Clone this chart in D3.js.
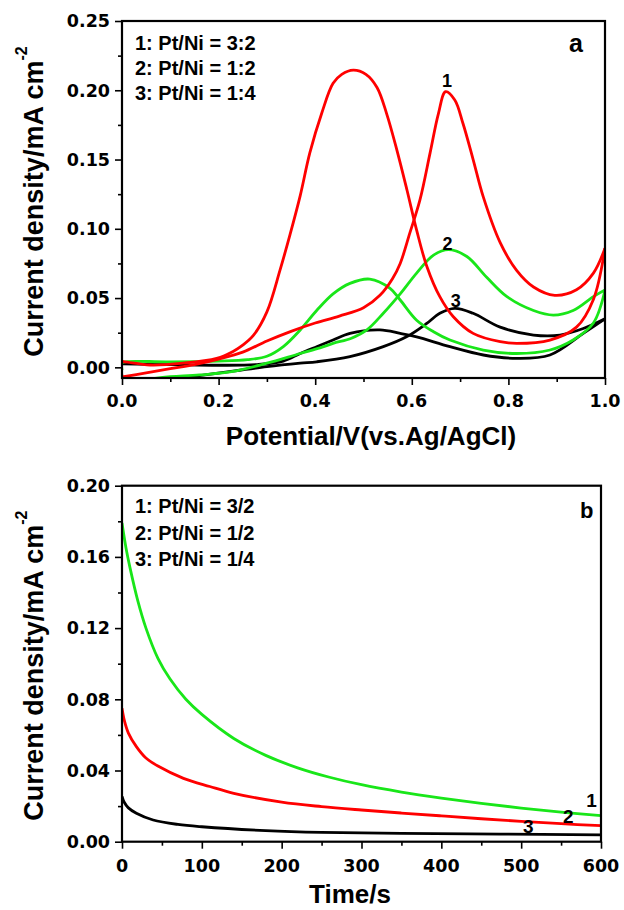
<!DOCTYPE html>
<html><head><meta charset="utf-8">
<script src="https://cdn.jsdelivr.net/npm/d3@7"></script>
<style>
body{margin:0;background:#fff;}
svg{display:block;}
text{font-family:Arial,"Liberation Sans",sans-serif;font-weight:bold;fill:#000;}
.tick{font-family:"DejaVu Sans",Arial,sans-serif;font-weight:bold;}
</style></head>
<body>
<script>
// ---------- Panel a : cyclic voltammograms [potential V, current mA cm-2] ----------
const cvRedForward = [[0,-0.007],[0.05,-0.004],[0.1,-0.001],[0.15,0.002],[0.2,0.006],[0.25,0.011],[0.3,0.019],[0.35,0.026],[0.4,0.032],[0.45,0.037],[0.5,0.043],[0.534,0.052],[0.56,0.064],[0.576,0.075],[0.596,0.097],[0.617,0.121],[0.638,0.155],[0.655,0.183],[0.67,0.199],[0.689,0.193],[0.706,0.176],[0.727,0.150],[0.748,0.123],[0.783,0.09],[0.817,0.07],[0.852,0.058],[0.896,0.052],[0.941,0.056],[0.976,0.068],[1.0,0.086]];
const cvRedBackward = [[1.0,0.086],[0.976,0.049],[0.941,0.029],[0.886,0.0197],[0.817,0.0173],[0.783,0.0185],[0.727,0.0245],[0.686,0.0365],[0.658,0.051],[0.631,0.073],[0.61,0.099],[0.59,0.128],[0.569,0.157],[0.548,0.183],[0.528,0.202],[0.505,0.2115],[0.479,0.2145],[0.455,0.2115],[0.437,0.205],[0.414,0.184],[0.389,0.155],[0.369,0.124],[0.348,0.096],[0.327,0.070],[0.30,0.040],[0.272,0.023],[0.25,0.016],[0.23,0.0115],[0.196,0.0065],[0.127,0.003],[0.058,0.0017],[0.006,0.004],[0,0.004],[0,-0.007]];
const cvGreenForward = [[0,-0.012],[0.08,-0.0075],[0.16,-0.0055],[0.23,-0.003],[0.30,0.003],[0.369,0.010],[0.41,0.014],[0.437,0.0173],[0.475,0.021],[0.507,0.027],[0.541,0.039],[0.576,0.053],[0.61,0.068],[0.645,0.081],[0.676,0.085],[0.714,0.080],[0.755,0.065],[0.797,0.051],[0.852,0.041],[0.893,0.0377],[0.934,0.041],[0.976,0.051],[1.0,0.0558]];
const cvGreenBackward = [[1.0,0.0558],[0.976,0.032],[0.934,0.0197],[0.886,0.0125],[0.817,0.010],[0.748,0.0125],[0.679,0.0197],[0.645,0.0257],[0.61,0.034],[0.576,0.0486],[0.555,0.057],[0.513,0.0637],[0.472,0.0606],[0.437,0.053],[0.403,0.041],[0.369,0.027],[0.334,0.015],[0.30,0.008],[0.26,0.0055],[0.2,0.0045],[0.093,0.004],[0.006,0.004],[0,0.003],[0,-0.002]];
const cvBlackForward = [[0,-0.012],[0.08,-0.009],[0.16,-0.006],[0.3,0.0005],[0.369,0.003],[0.403,0.004],[0.472,0.0077],[0.541,0.0149],[0.589,0.022],[0.631,0.0317],[0.658,0.039],[0.689,0.0426],[0.727,0.039],[0.783,0.029],[0.852,0.0233],[0.907,0.0233],[0.955,0.028],[1.0,0.035]];
const cvBlackBackward = [[1.0,0.035],[0.955,0.0245],[0.886,0.0089],[0.817,0.0065],[0.748,0.0089],[0.679,0.0149],[0.61,0.022],[0.576,0.0245],[0.534,0.027],[0.472,0.0245],[0.437,0.0197],[0.403,0.0149],[0.369,0.010],[0.334,0.0045],[0.28,0.002],[0.2,0.0015],[0.1,0.002],[0,0.0025]];
const cvXTicks = [0,0.2,0.4,0.6,0.8,1.0];
const cvXMinor = [0.1,0.3,0.5,0.7,0.9];
const cvYTicks = [0,0.05,0.10,0.15,0.20,0.25];
const cvYMinor = [0.025,0.075,0.125,0.175,0.225];
const cvLegend = ["1: Pt/Ni = 3:2","2: Pt/Ni = 1:2","3: Pt/Ni = 1:4"];
const cvCurveLabels = [{t:"1",x:0.673,y:0.202},{t:"2",x:0.674,y:0.0846},{t:"3",x:0.691,y:0.0435}];

// ---------- Panel b : chronoamperometry [time s, current mA cm-2] ----------
const caGreenTime = [0,5,10,20,30,45,60,80,100,140,180,220,260,300,350,400,450,500,550,600];
const caGreenJ    = [0.179,0.165,0.154,0.135,0.120,0.103,0.0915,0.080,0.0715,0.058,0.0485,0.0415,0.0362,0.032,0.0279,0.0245,0.0215,0.0189,0.0166,0.0146];
const caRedTime = [0,3,8,18,30,45,77,110,140,200,250,300,350,400,450,500,550,600];
const caRedJ    = [0.075,0.068,0.061,0.0534,0.047,0.0425,0.0356,0.031,0.0272,0.0222,0.0197,0.0178,0.0161,0.0145,0.0129,0.0114,0.0101,0.009];
const caBlackTime = [0,3,8,18,39,70,100,180,250,350,474,600];
const caBlackJ    = [0.0255,0.022,0.019,0.016,0.0122,0.0097,0.0084,0.0062,0.0052,0.0047,0.0043,0.0038];
const caXTicks = [0,100,200,300,400,500,600];
const caXMinor = [50,150,250,350,450,550];
const caYTicks = [0,0.04,0.08,0.12,0.16,0.20];
const caYMinor = [0.02,0.06,0.10,0.14,0.18];
const caLegend = ["1: Pt/Ni = 3/2","2: Pt/Ni = 1/2","3: Pt/Ni = 1/4"];
const caCurveLabels = [{t:"1",x:588,y:0.0195},{t:"2",x:559,y:0.0105},{t:"3",x:509,y:0.0049}];

const RED="#ff0000", GREEN="#19e619", BLACK="#000000";

const svg = d3.select("body").append("svg").attr("width",624).attr("height",910);

function panel(o){
  const g = svg.append("g");
  const x = d3.scaleLinear().domain(o.xDomain).range([o.left,o.right]);
  const y = d3.scaleLinear().domain(o.yDomain).range([o.bottom,o.top]);
  const clipId = "clip"+o.name;
  svg.append("clipPath").attr("id",clipId).append("rect")
    .attr("x",o.left).attr("y",o.top).attr("width",o.right-o.left).attr("height",o.bottom-o.top);
  // ticks
  const xa = d3.axisBottom(x).tickValues(o.xTicks).tickSize(7).tickFormat("");
  const xm = d3.axisBottom(x).tickValues(o.xMinor).tickSize(4).tickFormat("");
  const ya = d3.axisLeft(y).tickValues(o.yTicks).tickSize(7).tickFormat("");
  const ym = d3.axisLeft(y).tickValues(o.yMinor).tickSize(4).tickFormat("");
  [[xa,"bottom"],[xm,"bottom"],[ya,"left"],[ym,"left"]].forEach(([a,side])=>{
    const ag = g.append("g").attr("transform", side==="bottom" ? `translate(0,${o.bottom})` : `translate(${o.left},0)`).call(a);
    ag.select(".domain").remove();
    ag.selectAll("line").attr("stroke","#000").attr("stroke-width",1.6);
  });
  // tick labels
  g.selectAll(null).data(o.xTicks).enter().append("text").attr("class","tick")
    .attr("x",d=>x(d)).attr("y",o.xLabelBase).attr("text-anchor","middle").attr("font-size",17.5)
    .text(o.xFmt);
  g.selectAll(null).data(o.yTicks).enter().append("text").attr("class","tick")
    .attr("x",o.left-12).attr("y",d=>y(d)).attr("dy","0.36em").attr("text-anchor","end").attr("font-size",17.5)
    .text(o.yFmt);
  // curves
  const cg = g.append("g").attr("clip-path",`url(#${clipId})`);
  o.series.forEach(s=>{
    cg.append("path").datum(s.data)
      .attr("d", d3.line().x(d=>x(d[0])).y(d=>y(d[1])).curve(s.curve))
      .attr("fill","none").attr("stroke",s.color).attr("stroke-width",2.8).attr("stroke-linejoin","round");
  });
  // frame
  g.append("rect").attr("x",o.left).attr("y",o.top).attr("width",o.right-o.left).attr("height",o.bottom-o.top)
    .attr("fill","none").attr("stroke","#000").attr("stroke-width",2.2);
  // legend
  g.selectAll(null).data(o.legend).enter().append("text")
    .attr("x",135).attr("y",(d,i)=>o.legendY[i]).attr("font-size",20).text(d=>d);
  // curve labels
  g.selectAll(null).data(o.curveLabels).enter().append("text")
    .attr("x",d=>x(d.x)).attr("y",d=>y(d.y)).attr("text-anchor","middle").attr("font-size",o.clSize).text(d=>d.t);
  // panel letter
  g.append("text").attr("x",o.letterX).attr("y",o.letterY).attr("font-size",o.letterSize).text(o.name);
  // axis titles
  g.append("text").attr("x",o.xTitleX).attr("y",o.xTitleY).attr("text-anchor","middle").attr("font-size",26).text(o.xTitle);
  const yt = g.append("text").attr("transform",`translate(43,${(o.top+o.bottom)/2+2}) rotate(-90)`)
    .attr("text-anchor","middle").attr("font-size",27);
  yt.append("tspan").text("Current density/mA cm");
  yt.append("tspan").attr("dy",-16).attr("font-size",16).text("-2");
  return {x,y};
}

const cr = d3.curveCatmullRom.alpha(0.5);
panel({
  name:"a", left:122, right:605, top:21, bottom:378,
  xDomain:[0,1], yDomain:[-0.0077,0.25],
  xTicks:cvXTicks, xMinor:cvXMinor, yTicks:cvYTicks, yMinor:cvYMinor,
  xFmt:d3.format(".1f"), yFmt:d3.format(".2f"), xLabelBase:407,
  series:[
    {data:cvBlackForward,color:BLACK,curve:cr},{data:cvBlackBackward,color:BLACK,curve:cr},
    {data:cvGreenForward,color:GREEN,curve:cr},{data:cvGreenBackward,color:GREEN,curve:cr},
    {data:cvRedForward,color:RED,curve:cr},{data:cvRedBackward,color:RED,curve:cr}],
  legend:cvLegend, legendY:[50,75,100], curveLabels:cvCurveLabels, clSize:18,
  letterX:569, letterY:52, letterSize:25,
  xTitle:"Potential/V(vs.Ag/AgCl)", xTitleX:371, xTitleY:445
});

const zip = (a,b)=>a.map((v,i)=>[v,b[i]]);
panel({
  name:"b", left:122, right:601, top:485.7, bottom:841.7,
  xDomain:[0,600], yDomain:[0,0.2],
  xTicks:caXTicks, xMinor:caXMinor, yTicks:caYTicks, yMinor:caYMinor,
  xFmt:d3.format("d"), yFmt:d3.format(".2f"), xLabelBase:872,
  series:[
    {data:zip(caBlackTime,caBlackJ),color:BLACK,curve:cr},
    {data:zip(caRedTime,caRedJ),color:RED,curve:cr},
    {data:zip(caGreenTime,caGreenJ),color:GREEN,curve:cr}],
  legend:caLegend, legendY:[513,540,566], curveLabels:caCurveLabels, clSize:19,
  letterX:580, letterY:518, letterSize:22,
  xTitle:"Time/s", xTitleX:350, xTitleY:903
});
</script>
</body></html>
